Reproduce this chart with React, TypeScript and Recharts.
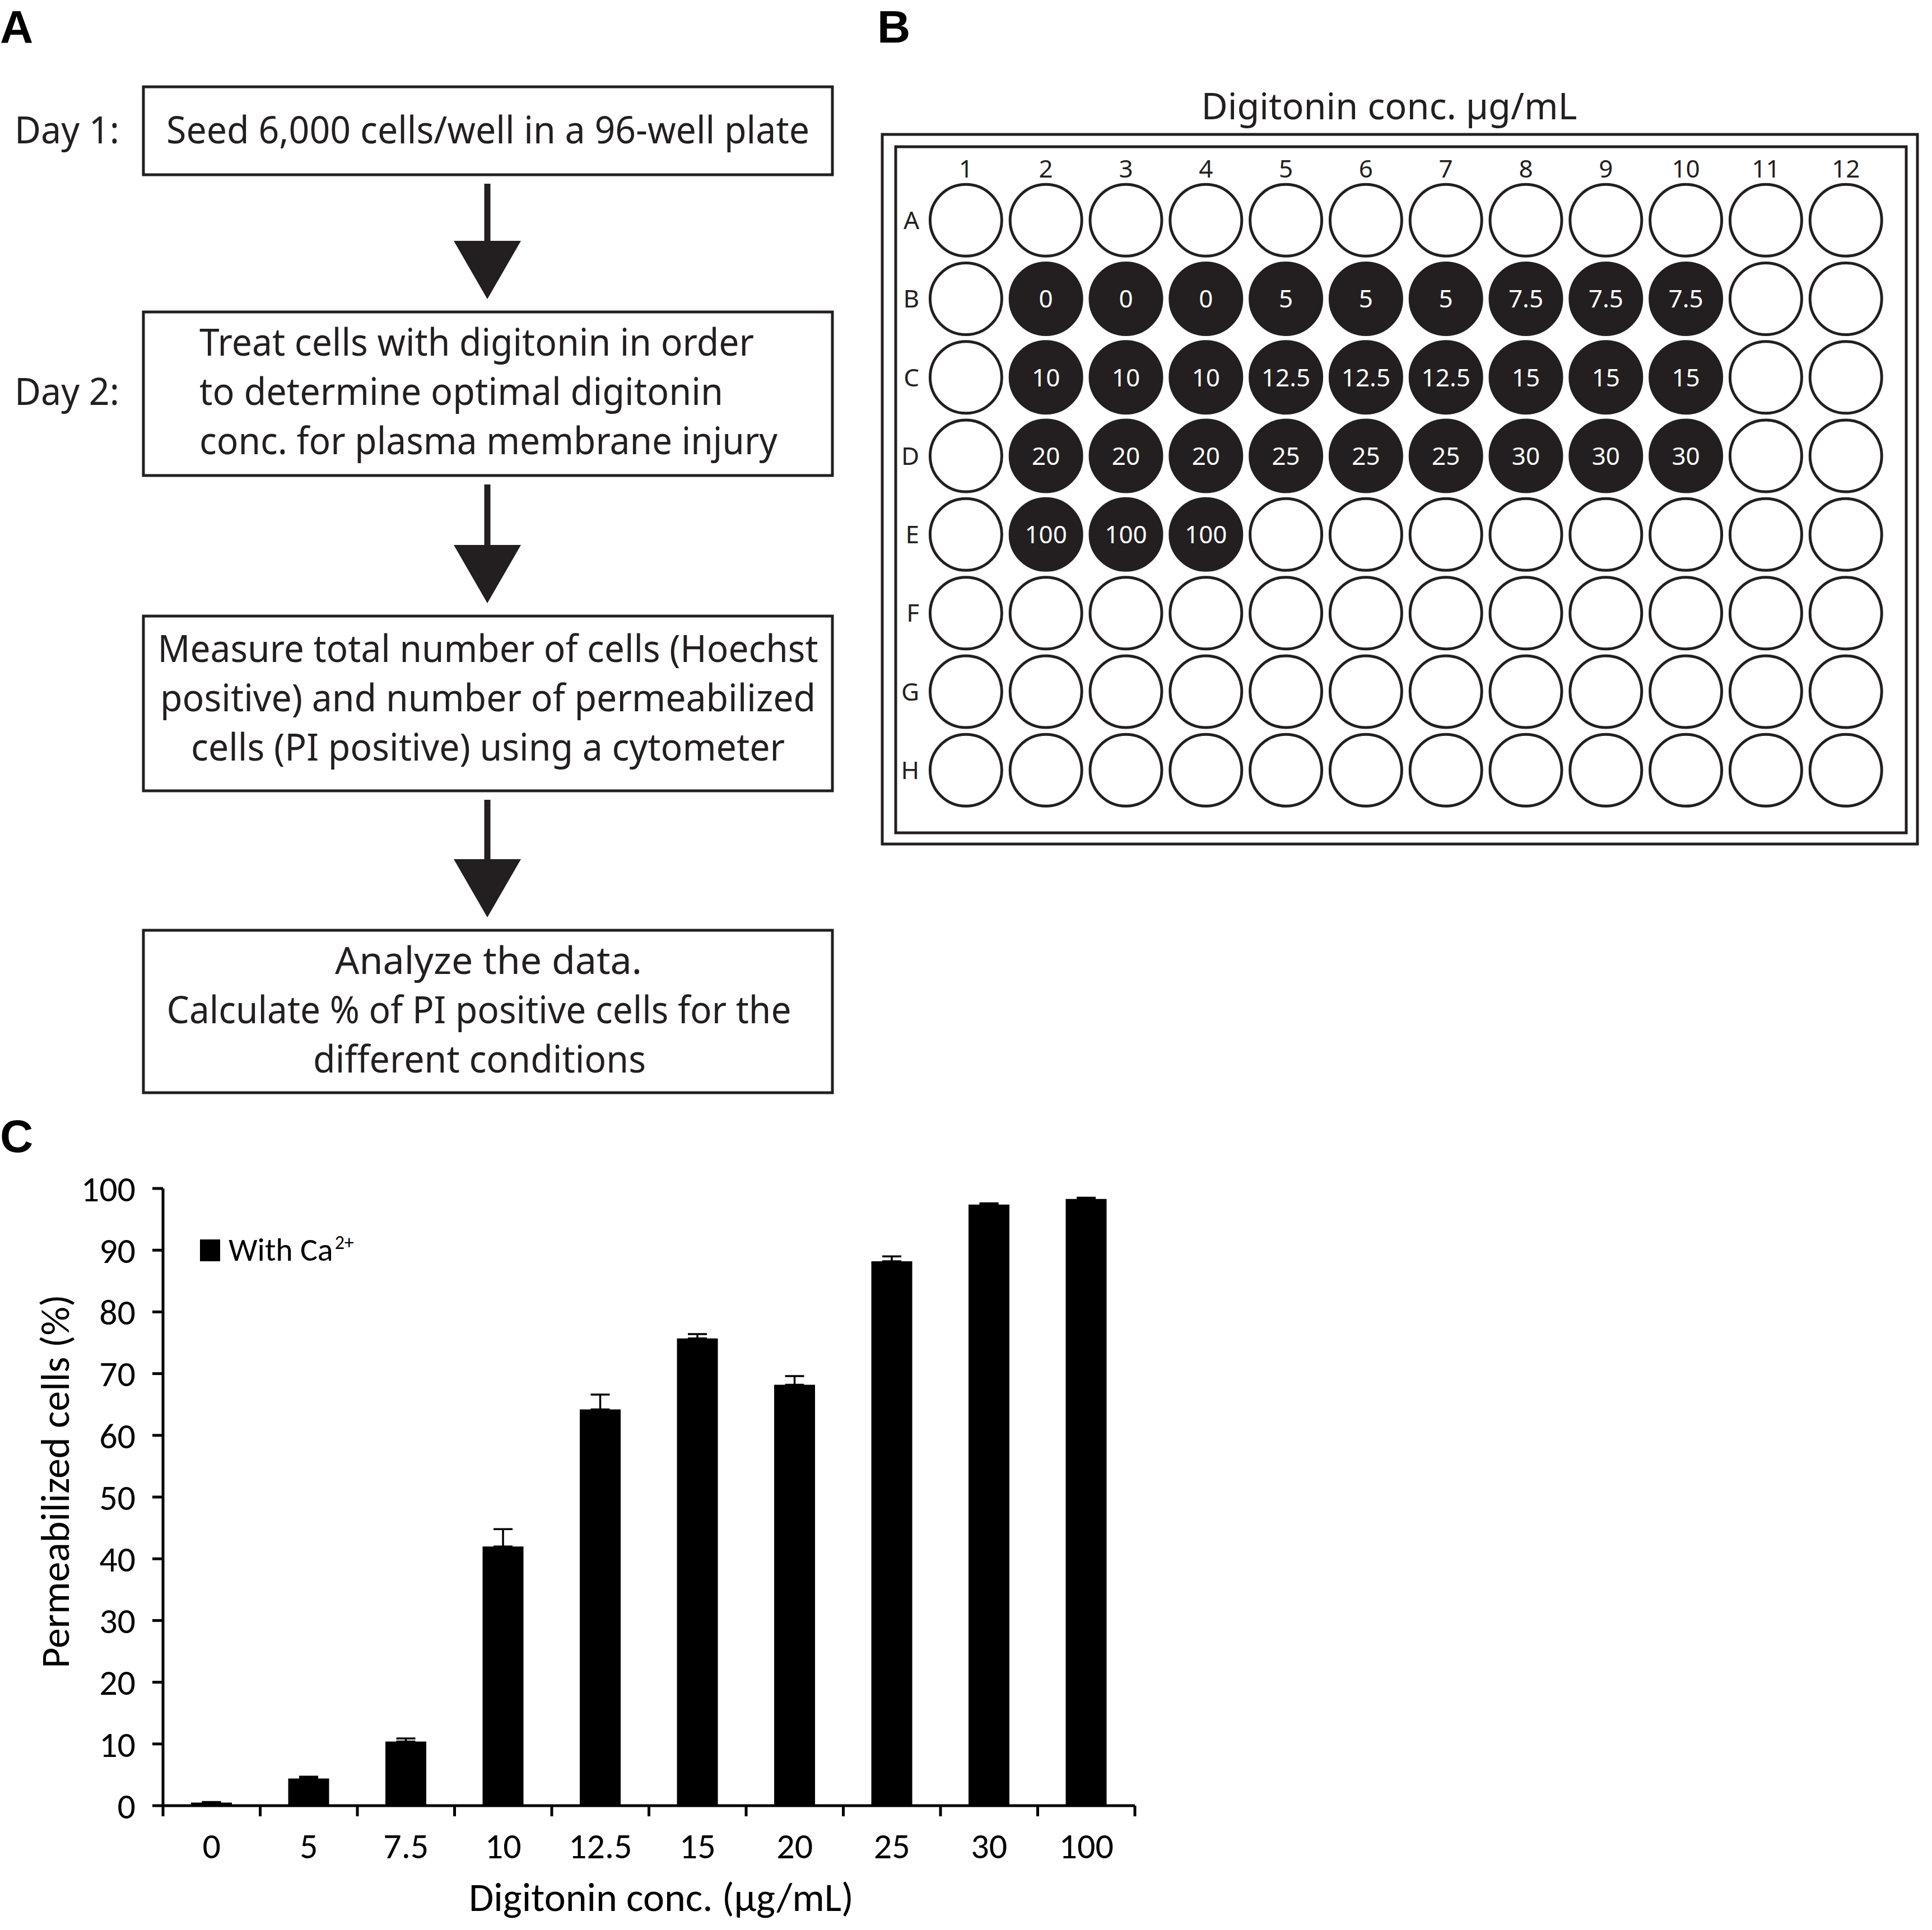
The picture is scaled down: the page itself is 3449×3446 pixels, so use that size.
import React from 'react';
import { BarChart, Bar, XAxis, YAxis, ErrorBar, Legend, Label, ScatterChart, Scatter } from 'recharts';

// ---------- data ----------
const concentrations = ['0', '5', '7.5', '10', '12.5', '15', '20', '25', '30', '100'];
const permeabilized = [0.5, 4.4, 10.4, 42.0, 64.2, 75.7, 68.2, 88.2, 97.4, 98.3];
const permeabilizedErr = [0.1, 0.3, 0.5, 2.8, 2.4, 0.7, 1.4, 0.8, 0.2, 0.2];
const yTicks = [0, 10, 20, 30, 40, 50, 60, 70, 80, 90, 100];
const seriesName = 'With Ca';
const seriesSup = '2+';
const yTitle = 'Permeabilized cells (%)';
const xTitle = 'Digitonin conc. (\u00b5g/mL)';

const plateRows = ['A', 'B', 'C', 'D', 'E', 'F', 'G', 'H'];
const plateCols = [1, 2, 3, 4, 5, 6, 7, 8, 9, 10, 11, 12];
const plateTitle = 'Digitonin conc. \u00b5g/mL';
const replicates = 3;

const flowDays = ['Day 1:', 'Day 2:'];
const flowSteps: string[][] = [
  ['Seed 6,000 cells/well in a 96-well plate'],
  ['Treat cells with digitonin in order', 'to determine optimal digitonin', 'conc. for plasma membrane injury'],
  ['Measure total number of cells (Hoechst', 'positive) and number of permeabilized', 'cells (PI positive) using a cytometer'],
  ['Analyze the data.', 'Calculate % of PI positive cells for the', 'different conditions'],
];

// ---------- styling / layout ----------
const INK = '#231f20';
const FLOW_FONT = "'Noto Sans', 'Open Sans', sans-serif";
const CHART_FONT = "Carlito, 'Open Sans', sans-serif";
const LETTER_FONT = "'Liberation Sans', Arial, sans-serif";
const TICK_FS = 64;
const TITLE_FS = 72;

const boxX = 256;
const boxW = 1230;
const arrowX = 870;
const boxLayout = [
  { top: 155, bottom: 312, anchor: 'middle', lines: [{ x: 871, w: 1148, cy: 233 }] },
  { top: 557, bottom: 849, anchor: 'start', lines: [{ x: 356, w: 990, cy: 612 }, { x: 356, w: 935, cy: 700 }, { x: 356, w: 1032, cy: 788 }] },
  { top: 1100, bottom: 1412, anchor: 'middle', lines: [{ x: 871, w: 1179, cy: 1159 }, { x: 871, w: 1170, cy: 1247 }, { x: 871, w: 1060, cy: 1335 }] },
  { top: 1661, bottom: 1951, anchor: 'middle', lines: [{ x: 872, w: 548, cy: 1716 }, { x: 855, w: 1115, cy: 1804 }, { x: 856, w: 594, cy: 1892 }] },
];
const dayLayout = [{ cy: 233 }, { cy: 700 }];

const barData = concentrations.map((c, i) => ({
  conc: c,
  value: permeabilized[i],
  err: [0, permeabilizedErr[i]],
}));

const labelByWell: Record<string, string> = {};
concentrations.forEach((c, k) => {
  const r = 1 + Math.floor(k / 3);
  const c0 = 2 + (k % 3) * replicates;
  for (let j = 0; j < replicates; j++) labelByWell[`${r}-${c0 + j}`] = c;
});
const wells = plateRows.flatMap((r, ri) =>
  plateCols.map((c) => ({ col: c, row: ri + 1, label: labelByWell[`${ri}-${c}`] || '' }))
);

// ---------- chart C ----------
const CHART_W = 2200;
const CHART_H = 1496;
const C_MARGIN = { top: 172, right: 174, left: 91, bottom: 122 };
const PLOT_W = CHART_W - C_MARGIN.left - 200 - C_MARGIN.right;

const CatTick = (props: any) => {
  const { x, y, payload, index } = props;
  const half = payload && payload.offset ? payload.offset : PLOT_W / concentrations.length / 2;
  const last = index === concentrations.length - 1;
  return (
    <g>
      <line x1={x - half} x2={x - half} y1={y} y2={y + 19} stroke="#000" strokeWidth={5} />
      {last && <line x1={x + half} x2={x + half} y1={y} y2={y + 19} stroke="#000" strokeWidth={5} />}
      <text x={x} y={y + 94} textAnchor="middle" fontSize={TICK_FS} fontFamily={CHART_FONT} fill="#000">
        {payload.value}
      </text>
    </g>
  );
};

const YTitle = (props: any) => {
  const vb = props.viewBox || { x: 91, y: 172, width: 200, height: 1102 };
  const cx = vb.x + 7;
  const cy = vb.y + vb.height / 2 - 28;
  return (
    <text transform={`translate(${cx},${cy}) rotate(-90)`} textAnchor="middle" dominantBaseline="central" fontSize={TITLE_FS} fontFamily={CHART_FONT} fill="#000">
      {yTitle}
    </text>
  );
};

const XTitle = (props: any) => {
  const vb = props.viewBox || { x: 291, y: 1274, width: 1735, height: 100 };
  return (
    <text x={vb.x + vb.width / 2 + 22} y={vb.y + 188} textAnchor="middle" fontSize={TITLE_FS} fontFamily={CHART_FONT} fill="#000">
      {xTitle}
    </text>
  );
};

const LegendContent = () => (
  <svg width={320} height={70} style={{ display: 'block', overflow: 'visible' }}>
    <rect x={0} y={13} width={36} height={39} fill="#000" />
    <text x={51} y={51} fontSize={58} fontFamily={CHART_FONT} fill="#000">
      {seriesName}
      <tspan fontSize={34} dx={3} dy={-21}>{seriesSup}</tspan>
    </text>
  </svg>
);

// ---------- plate B ----------
const WellShape = (props: any) => {
  const { cx, cy, payload } = props;
  const filled = !!payload.label;
  return (
    <g>
      <circle cx={cx} cy={cy} r={64} fill={filled ? INK : '#fff'} stroke={INK} strokeWidth={5} />
      {filled && (
        <text x={cx} y={cy} dy="0.36em" textAnchor="middle" fontSize={44} fontFamily={FLOW_FONT} fill="#fff">
          {payload.label}
        </text>
      )}
    </g>
  );
};

const ColTick = (props: any) => (
  <text x={props.x} y={props.y - 6} textAnchor="middle" fontSize={44} fontFamily={FLOW_FONT} fill={INK}>
    {props.payload.value}
  </text>
);
const RowTick = (props: any) => (
  <text x={props.x - 12} y={props.y} dy="0.36em" textAnchor="end" fontSize={44} fontFamily={FLOW_FONT} fill={INK}>
    {plateRows[props.payload.value - 1]}
  </text>
);

// ---------- flowchart A ----------
const Flowchart = () => (
  <g>
    {boxLayout.map((b, i) => (
      <g key={i}>
        <rect x={boxX} y={b.top} width={boxW} height={b.bottom - b.top} fill="#fff" stroke={INK} strokeWidth={5} />
        {flowSteps[i].map((t, j) => (
          <text
            key={j}
            x={b.lines[j].x}
            y={b.lines[j].cy + 23}
            textAnchor={b.anchor as any}
            textLength={b.lines[j].w}
            lengthAdjust="spacingAndGlyphs"
            fontSize={68}
            fontFamily={FLOW_FONT}
            fill={INK}
          >
            {t}
          </text>
        ))}
        {i < boxLayout.length - 1 && (
          <g>
            <line x1={arrowX} x2={arrowX} y1={b.bottom + 16} y2={boxLayout[i + 1].top - 124} stroke={INK} strokeWidth={11} />
            <polygon
              points={`${arrowX - 60},${boxLayout[i + 1].top - 127} ${arrowX + 60},${boxLayout[i + 1].top - 127} ${arrowX},${boxLayout[i + 1].top - 23}`}
              fill={INK}
            />
          </g>
        )}
      </g>
    ))}
    {flowDays.map((d, i) => (
      <text key={d} x={26} y={dayLayout[i].cy + 23} textLength={187} lengthAdjust="spacingAndGlyphs" fontSize={68} fontFamily={FLOW_FONT} fill={INK}>
        {d}
      </text>
    ))}
  </g>
);

export default function App() {
  return (
    <div style={{ position: 'absolute', left: 0, top: 0, width: 3449, height: 3446, background: '#fff', overflow: 'hidden' }}>
      <svg width={3449} height={3446} style={{ position: 'absolute', left: 0, top: 0 }}>
        <text x={0} y={76} fontSize={82} fontWeight="bold" fontFamily={LETTER_FONT} fill="#000">A</text>
        <text x={1566} y={76} fontSize={82} fontWeight="bold" fontFamily={LETTER_FONT} fill="#000">B</text>
        <text x={0} y={2057} fontSize={82} fontWeight="bold" fontFamily={LETTER_FONT} fill="#000">C</text>
        <Flowchart />
        <text x={2480} y={213} textAnchor="middle" textLength={671} lengthAdjust="spacingAndGlyphs" fontSize={66} fontFamily={FLOW_FONT} fill={INK}>
          {plateTitle}
        </text>
        <rect x={1575} y={240} width={1848} height={1267} fill="#fff" stroke={INK} strokeWidth={5} />
        <rect x={1599} y={262} width={1804} height={1225} fill="#fff" stroke={INK} strokeWidth={5} />
      </svg>

      <div style={{ position: 'absolute', left: 1560, top: 230 }}>
        <ScatterChart width={1880} height={1290} margin={{ top: 33, left: 33, right: 73.4, bottom: 74.6 }}>
          <XAxis
            dataKey="col"
            type="number"
            orientation="top"
            domain={[0.5, 12.5]}
            ticks={plateCols}
            height={60}
            axisLine={false}
            tickLine={false}
            tickSize={0}
            tickMargin={0}
            tick={<ColTick />}
            interval={0}
          />
          <YAxis
            dataKey="row"
            type="number"
            domain={[0.5, 8.5]}
            reversed
            ticks={[1, 2, 3, 4, 5, 6, 7, 8]}
            width={60}
            axisLine={false}
            tickLine={false}
            tickSize={0}
            tickMargin={0}
            tick={<RowTick />}
            interval={0}
          />
          <Scatter data={wells} shape={<WellShape />} isAnimationActive={false} />
        </ScatterChart>
      </div>

      <div style={{ position: 'absolute', left: 0, top: 1950 }}>
        <BarChart width={CHART_W} height={CHART_H} data={barData} margin={C_MARGIN} barSize={73}>
          <XAxis
            dataKey="conc"
            height={100}
            axisLine={{ stroke: '#000', strokeWidth: 5 }}
            tickLine={false}
            tickSize={0}
            tickMargin={0}
            tick={<CatTick />}
            interval={0}
          >
            <Label content={<XTitle />} />
          </XAxis>
          <YAxis
            width={200}
            domain={[0, 100]}
            ticks={yTicks}
            interval={0}
            tickSize={19}
            tickMargin={30}
            axisLine={{ stroke: '#000', strokeWidth: 5 }}
            tickLine={{ stroke: '#000', strokeWidth: 5 }}
            tick={{ fill: '#000', fontSize: TICK_FS, fontFamily: CHART_FONT }}
          >
            <Label content={<YTitle />} />
          </YAxis>
          <Bar dataKey="value" fill="#000" isAnimationActive={false}>
            <ErrorBar dataKey="err" direction="y" width={17} stroke="#000" strokeWidth={3.5} isAnimationActive={false} />
          </Bar>
          <Legend
            layout="horizontal"
            verticalAlign="middle"
            align="center"
            content={<LegendContent />}
            wrapperStyle={{ left: 357, top: 250, width: 320, height: 70 }}
          />
        </BarChart>
      </div>
    </div>
  );
}
